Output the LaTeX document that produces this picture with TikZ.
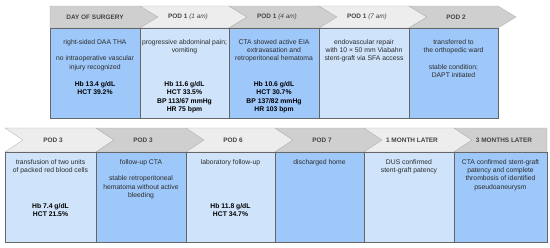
\documentclass[tikz,border=0pt]{standalone}
\usepackage{fontspec}
\setmainfont{Liberation Sans}
\usepackage{tikz}
\usetikzlibrary{positioning}
\definecolor{boxdark}{HTML}{9FC8FA}
\definecolor{boxlight}{HTML}{CFE3FA}
\definecolor{hdrdark}{HTML}{CFCFCF}
\definecolor{hdrlight}{HTML}{EDEDED}
\definecolor{edgegrey}{HTML}{666666}
\definecolor{hdrtext}{HTML}{444444}
\definecolor{bodytext}{HTML}{2B2B2B}

\begin{document}
\begin{tikzpicture}[x=0.03cm, y=-0.03cm,
  headtext/.style={font=\fontsize{5.5}{6.5}\selectfont\bfseries, text=hdrtext, inner sep=0pt},
  bodytext/.style={font=\fontsize{5.8}{7.1}\selectfont, text=bodytext, align=center, anchor=north, inner sep=0pt},
  valuetext/.style={bodytext, font=\fontsize{5.8}{7.1}\selectfont\bfseries, text=black},
  hdredge/.style={draw=black!30, line width=0.3pt},
  boxedge/.style={draw=edgegrey, line width=0.6pt}]
\useasboundingbox (0,0) rectangle (550,248);

% ---- first row: day of surgery to POD 2 ----
% headers
\filldraw[hdredge, fill=hdrdark]  (50,6) -- (140,6) -- (158,17) -- (140,28) -- (50,28) -- cycle;
\filldraw[hdredge, fill=hdrlight] (140,6) -- (229,6) -- (247,17) -- (229,28) -- (140,28) -- (158,17) -- cycle;
\filldraw[hdredge, fill=hdrdark]  (229,6) -- (319,6) -- (337,17) -- (319,28) -- (229,28) -- (247,17) -- cycle;
\filldraw[hdredge, fill=hdrlight] (319,6) -- (409,6) -- (427,17) -- (409,28) -- (319,28) -- (337,17) -- cycle;
\filldraw[hdredge, fill=hdrdark]  (409,6) -- (498,6) -- (516,17) -- (498,28) -- (409,28) -- (427,17) -- cycle;
\node[headtext] (hsurgery) at (95,17) {DAY OF SURGERY};
\node[headtext] (hpodA) at (188,17) {POD 1 {\mdseries\itshape (1 am)}};
\node[headtext] (hpodB) at (277,17) {POD 1 {\mdseries\itshape (4 am)}};
\node[headtext] (hpodC) at (367,17) {POD 1 {\mdseries\itshape (7 am)}};
\node[headtext] (hpodtwo) at (456,17) {POD 2};

% boxes
\filldraw[boxedge, fill=boxdark]  (50,28) rectangle (140,118);
\filldraw[boxedge, fill=boxlight] (140,28) rectangle (229,118);
\filldraw[boxedge, fill=boxdark]  (229,28) rectangle (319,118);
\filldraw[boxedge, fill=boxlight] (319,28) rectangle (409,118);
\filldraw[boxedge, fill=boxdark]  (409,28) rectangle (498,118);

% texts
\node[bodytext] (tsurgery) at (95,39) {right-sided DAA THA\\[7.1pt]no intraoperative vascular\\injury recognized};
\node[valuetext] (vsurgery) at (95,81.5) {Hb 13.4 g/dL\\HCT 39.2\%};
\node[bodytext] (tpodA) at (184.5,39) {progressive abdominal pain;\\vomiting};
\node[valuetext] (vpodA) at (184.5,81.5) {Hb 11.6 g/dL\\HCT 33.5\%\\BP 113/67 mmHg\\HR 75 bpm};
\node[bodytext] (tpodB) at (274,39) {CTA showed active EIA\\extravasation and\\retroperitoneal hematoma};
\node[valuetext] (vpodB) at (274,81.5) {Hb 10.6 g/dL\\HCT 30.7\%\\BP 137/82 mmHg\\HR 103 bpm};
\node[bodytext] (tpodC) at (364,39) {endovascular repair\\with 10 × 50 mm Viabahn\\stent-graft via SFA access};
\node[bodytext] (tpodtwo) at (453.5,39) {transferred to\\the orthopedic ward\\[7.1pt]stable condition;\\DAPT initiated};

% ---- second row: POD 3 to 3 months later ----
% headers
\filldraw[hdredge, fill=hdrlight] (5,128) -- (96,128) -- (114,140) -- (96,152) -- (5,152) -- (23,140) -- cycle;
\filldraw[hdredge, fill=hdrdark]  (96,128) -- (186,128) -- (204,140) -- (186,152) -- (96,152) -- (114,140) -- cycle;
\filldraw[hdredge, fill=hdrlight] (186,128) -- (275,128) -- (293,140) -- (275,152) -- (186,152) -- (204,140) -- cycle;
\filldraw[hdredge, fill=hdrdark]  (275,128) -- (364,128) -- (382,140) -- (364,152) -- (275,152) -- (293,140) -- cycle;
\filldraw[hdredge, fill=hdrlight] (364,128) -- (454,128) -- (472,140) -- (454,152) -- (364,152) -- (382,140) -- cycle;
\filldraw[hdredge, fill=hdrdark]  (454,128) -- (547,128) -- (547,152) -- (454,152) -- (472,140) -- cycle;
\node[headtext] (hpodthree) at (53,140) {POD 3};
\node[headtext] (hctathree) at (143,140) {POD 3};
\node[headtext] (hpodsix) at (233,140) {POD 6};
\node[headtext] (hpodseven) at (322,140) {POD 7};
\node[headtext] (honemonth) at (412,140) {1 MONTH LATER};
\node[headtext] (hthreemonths) at (504,140) {3 MONTHS LATER};

% boxes
\filldraw[boxedge, fill=boxlight] (5,152) rectangle (96,242);
\filldraw[boxedge, fill=boxdark]  (96,152) rectangle (186,242);
\filldraw[boxedge, fill=boxlight] (186,152) rectangle (275,242);
\filldraw[boxedge, fill=boxdark]  (275,152) rectangle (364,242);
\filldraw[boxedge, fill=boxlight] (364,152) rectangle (454,242);
\filldraw[boxedge, fill=boxdark]  (454,152) rectangle (547,242);

% texts
\node[bodytext] (tpodthree) at (50.5,159) {transfusion of two units\\of packed red blood cells};
\node[valuetext] (vpodthree) at (50.5,203.5) {Hb 7.4 g/dL\\HCT 21.5\%};
\node[bodytext] (tctathree) at (141,159) {follow-up CTA\\[7.1pt]stable retroperitoneal\\hematoma without active\\bleeding};
\node[bodytext] (tpodsix) at (230.5,159) {laboratory follow-up};
\node[valuetext] (vpodsix) at (230.5,203.5) {Hb 11.8 g/dL\\HCT 34.7\%};
\node[bodytext] (tpodseven) at (319.5,159) {discharged home};
\node[bodytext] (tonemonth) at (409,159) {DUS confirmed\\stent-graft patency};
\node[bodytext] (tthreemonths) at (500.5,159) {CTA confirmed stent-graft\\patency and complete\\thrombosis of identified\\pseudoaneurysm};
\end{tikzpicture}
\end{document}
